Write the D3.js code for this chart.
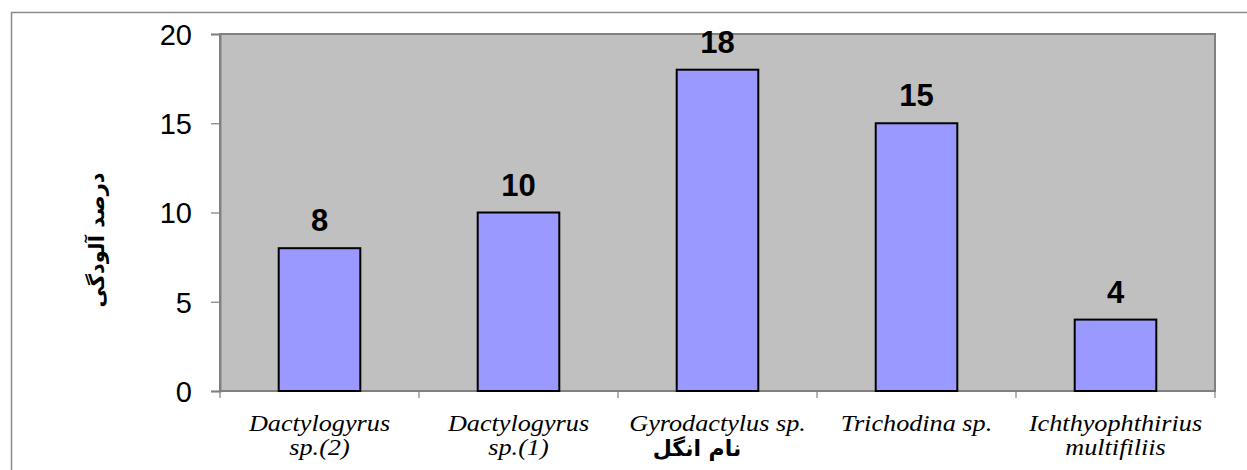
<!DOCTYPE html>
<html><head><meta charset="utf-8">
<script src="https://cdn.jsdelivr.net/npm/d3@7"></script>
<style>html,body{margin:0;padding:0;background:#fff;}</style>
</head><body>
<svg id="chart" width="1247" height="470"></svg>
<script>
const categories = [["Dactylogyrus","sp.(2)"],["Dactylogyrus","sp.(1)"],["Gyrodactylus sp."],["Trichodina sp."],["Ichthyophthirius","multifiliis"]];
const values = [8, 10, 18, 15, 4];
const yTicks = [0, 5, 10, 15, 20];
const yTitle = "درصد آلودگی";
const xTitle = "نام انگل";

const svg = d3.select("#chart");
const m = {left: 220, top: 34, right: 1215, bottom: 391};

// outer chart border (partially visible)
svg.append("path").attr("d", "M11.5,470 L11.5,12.5 L1247,12.5")
  .attr("fill","none").attr("stroke","#8c8c8c").attr("stroke-width",1.5);

const x = d3.scaleBand().domain(d3.range(categories.length)).range([m.left, m.right]).paddingInner(0.59).paddingOuter(0.295);
const xc = d3.scaleBand().domain(d3.range(categories.length)).range([m.left, m.right]);
const y = d3.scaleLinear().domain([0, 20]).range([m.bottom, m.top]);

svg.append("rect").attr("x", m.left).attr("y", m.top).attr("width", m.right-m.left).attr("height", m.bottom-m.top)
  .attr("fill","#c0c0c0").attr("stroke","#808080").attr("stroke-width",2);

// y axis
const ya = svg.append("g").attr("transform", `translate(${m.left},0)`)
  .call(d3.axisLeft(y).tickValues(yTicks).tickSize(9).tickPadding(19));
ya.select(".domain").attr("stroke","#808080").attr("stroke-width",2);
ya.selectAll(".tick line").attr("stroke","#808080").attr("stroke-width",1.2);
ya.selectAll("text").attr("font-family","'Liberation Sans', Arial, sans-serif").attr("font-size",29).attr("fill","#000").attr("dy","0.36em");

// x axis ticks
const xTickPos = d3.range(categories.length+1).map(i => m.left + i*xc.step());
svg.append("g").selectAll("line").data(xTickPos).join("line")
  .attr("x1", d=>d).attr("x2", d=>d).attr("y1", m.bottom).attr("y2", m.bottom+7)
  .attr("stroke","#808080").attr("stroke-width",1.2);
svg.append("line").attr("x1", m.left).attr("x2", m.right).attr("y1", m.bottom).attr("y2", m.bottom)
  .attr("stroke","#808080").attr("stroke-width",2);

// bars
svg.append("g").selectAll("rect").data(values).join("rect")
  .attr("x", (d,i)=>x(i)).attr("width", x.bandwidth())
  .attr("y", d=>y(d)).attr("height", d=>y(0)-y(d))
  .attr("fill","#9999ff").attr("stroke","#000").attr("stroke-width",2);

// value labels
svg.append("g").selectAll("text").data(values).join("text")
  .attr("x", (d,i)=>x(i)+x.bandwidth()/2).attr("y", d=>y(d)-17)
  .attr("text-anchor","middle").attr("font-family","'Liberation Sans', Arial, sans-serif")
  .attr("font-weight","bold").attr("font-size",31).text(d=>d);

// category labels
const cl = svg.append("g").selectAll("text").data(categories).join("text")
  .attr("transform", (d,i)=>`translate(${xc(i)+xc.bandwidth()/2},431) scale(1.14,1.02)`)
  .attr("text-anchor","middle").attr("font-family","'Liberation Serif', 'Times New Roman', serif")
  .attr("font-style","italic").attr("font-size",23).attr("fill","#000");
cl.each(function(d){
  const t = d3.select(this);
  d.forEach((line,j)=>{
    t.append("tspan").attr("x", 0).attr("dy", j===0?0:23.5).text(line);
  });
});

// x title
svg.append("text").attr("x", 697).attr("y", 456).attr("text-anchor","middle")
  .attr("font-family","'DejaVu Sans', sans-serif").attr("font-weight","bold").attr("font-size",22)
  .attr("direction","rtl").text(xTitle);

// y title
svg.append("text").attr("transform","translate(104,240) rotate(-90)").attr("text-anchor","middle")
  .attr("font-family","'DejaVu Sans', sans-serif").attr("font-weight","bold").attr("font-size",21)
  .text(yTitle);
</script>
</body></html>
